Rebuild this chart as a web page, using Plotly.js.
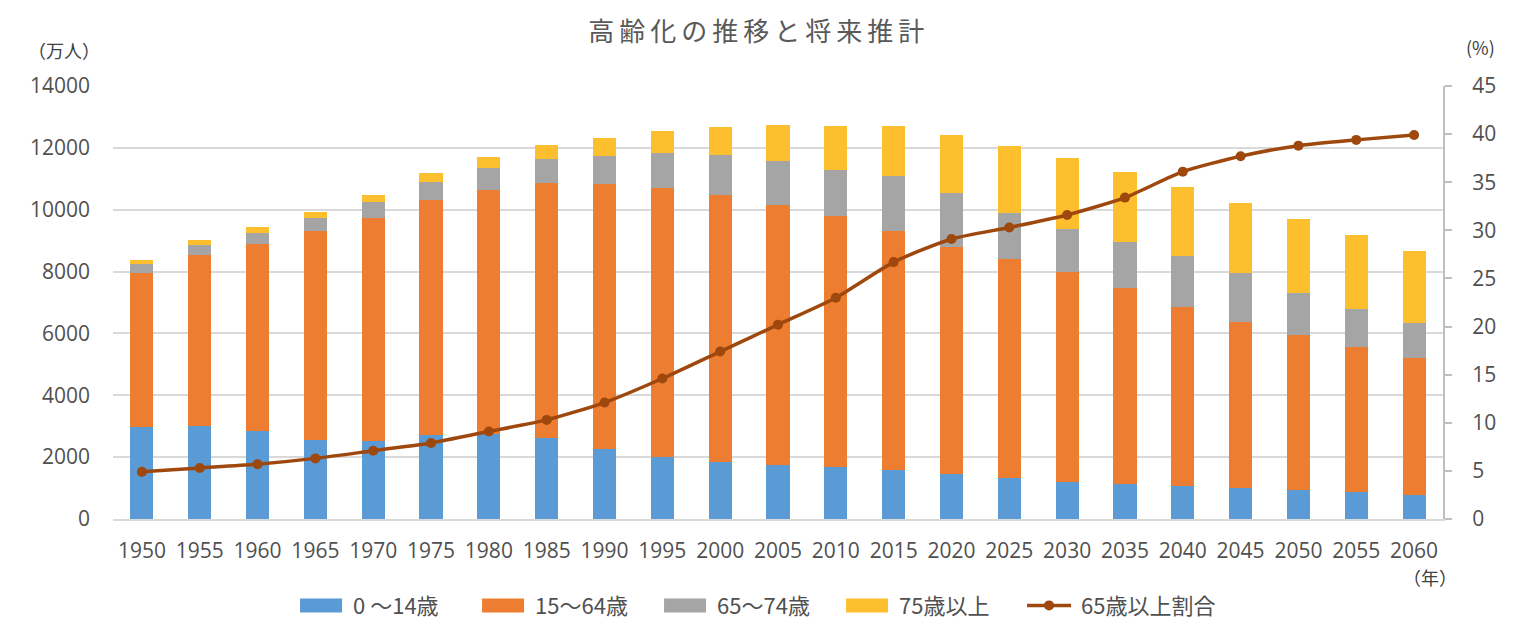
<!DOCTYPE html>
<html><head><meta charset="utf-8">
<script src="https://cdn.plot.ly/plotly-3.0.1.min.js"></script>
<style>
html,body{margin:0;padding:0;background:#fff;}
#chart{width:1530px;height:640px;}
.gtitle{letter-spacing:5px;}
</style>
</head><body>
<div id="chart"></div>
<script>
const years = ['1950','1955','1960','1965','1970','1975','1980','1985','1990','1995','2000','2005','2010','2015','2020','2025','2030','2035','2040','2045','2050','2055','2060'];
const age0_14  = [2979,3012,2843,2553,2515,2722,2751,2603,2249,2001,1847,1752,1680,1595,1457,1324,1204,1129,1073,1012,939,861,791];
const age15_64 = [4966,5517,6047,6744,7212,7581,7883,8251,8590,8716,8622,8409,8103,7728,7341,7085,6773,6343,5787,5353,5001,4706,4418];
const age65_74 = [309,339,373,434,516,602,699,779,892,1109,1301,1407,1517,1752,1733,1479,1407,1495,1645,1600,1383,1225,1128];
const age75up  = [107,139,163,190,224,284,366,471,597,717,900,1160,1407,1632,1879,2179,2278,2245,2223,2257,2385,2401,2336];
const ratio65  = [4.9,5.3,5.7,6.3,7.1,7.9,9.1,10.3,12.1,14.6,17.4,20.2,23.0,26.7,29.1,30.3,31.6,33.4,36.1,37.7,38.8,39.4,39.9];

const FONT = '"Noto Sans CJK JP","Noto Sans",sans-serif';
const TXT = '#595959';

const traces = [
  {type:'bar', name:'0 ～14歳', x:years, y:age0_14, marker:{color:'#5B9BD5'}},
  {type:'bar', name:'15～64歳', x:years, y:age15_64, marker:{color:'#ED7D31'}},
  {type:'bar', name:'65～74歳', x:years, y:age65_74, marker:{color:'#A5A5A5'}},
  {type:'bar', name:'75歳以上', x:years, y:age75up, marker:{color:'#FDBF2D'}},
  {type:'scatter', mode:'lines+markers', name:'65歳以上割合', x:years, y:ratio65, yaxis:'y2',
   line:{color:'#9E480E', width:3.5, shape:'spline', smoothing:0.6},
   marker:{color:'#9E480E', size:10}}
];

const layout = {
  width:1530, height:640,
  margin:{l:113, r:87, t:86, b:121},
  paper_bgcolor:'#fff', plot_bgcolor:'#fff',
  barmode:'stack', bargap:0.6,
  font:{family:FONT, color:TXT, size:20},
  title:{text:'高齢化の推移と将来推計', x:0.496, xanchor:'center', y:0.95, yanchor:'middle',
         font:{family:FONT, size:26, color:TXT}},
  xaxis:{type:'category', range:[-0.5,22.5], autorange:false, showgrid:false, showline:true, linecolor:'#D9D9D9', linewidth:2,
         ticks:'', tickfont:{size:21, family:'"Open Sans",sans-serif', color:'#505050'}, ticklabelstandoff:12},
  yaxis:{range:[0,14000], dtick:2000, showgrid:true, gridcolor:'#D9D9D9', gridwidth:2,
         zeroline:false, showline:false, ticks:'', tickformat:'d',
         tickfont:{size:21, family:'"Open Sans",sans-serif', color:'#505050'}, ticklabelstandoff:22},
  yaxis2:{range:[0,45], dtick:5, overlaying:'y', side:'right', showgrid:false, zeroline:false,
          showline:true, linecolor:'#BFBFBF', linewidth:2, ticks:'outside', ticklen:7, tickcolor:'#BFBFBF', tickwidth:2,
          tickfont:{size:21, family:'"Open Sans",sans-serif', color:'#505050'}, ticklabelstandoff:16},
  legend:{orientation:'h', x:0.4835, xanchor:'center', y:-0.2, yanchor:'middle',
          font:{size:22, family:FONT, color:'#505050'}, entrywidth:137, entrywidthmode:'pixels', traceorder:'normal'},
  annotations:[
    {text:'（万人）', xref:'paper', yref:'paper', x:-0.037, y:1.083, xanchor:'center', yanchor:'middle', showarrow:false, font:{size:18, family:FONT, color:'#404040'}},
    {text:'(%)', xref:'paper', yref:'paper', x:1.028, y:1.09, xanchor:'center', yanchor:'middle', showarrow:false, font:{size:18, family:FONT, color:'#404040'}},
    {text:'（年）', xref:'paper', yref:'paper', x:0.99, y:-0.135, xanchor:'center', yanchor:'middle', showarrow:false, font:{size:18, family:FONT, color:'#404040'}}
  ],
  showlegend:true
};

Plotly.newPlot('chart', traces, layout, {displayModeBar:false, staticPlot:true}).then(function(gd){
  // legend styling: wide rectangular swatches and a longer line sample, like the reference
  gd.querySelectorAll('.legend .traces').forEach(function(t){
    var lines = t.querySelectorAll('.legendlines path');
    if (lines.length) {
      lines.forEach(function(p){ p.setAttribute('d','M-2,0h44'); });
    } else {
      t.querySelectorAll('.legendpoints path').forEach(function(p){
        p.setAttribute('d','M-21,-7h42v14h-42Z');
      });
    }
    var tx = t.querySelector('.legendtext');
    if (tx) {
      tx.setAttribute('x','52');
      tx.querySelectorAll('tspan').forEach(function(s){ if (s.getAttribute('x')!==null) s.setAttribute('x','52'); });
    }
  });
  gd.querySelectorAll('.legend [clip-path]').forEach(function(c){ c.removeAttribute('clip-path'); });
});
</script>
</body></html>
